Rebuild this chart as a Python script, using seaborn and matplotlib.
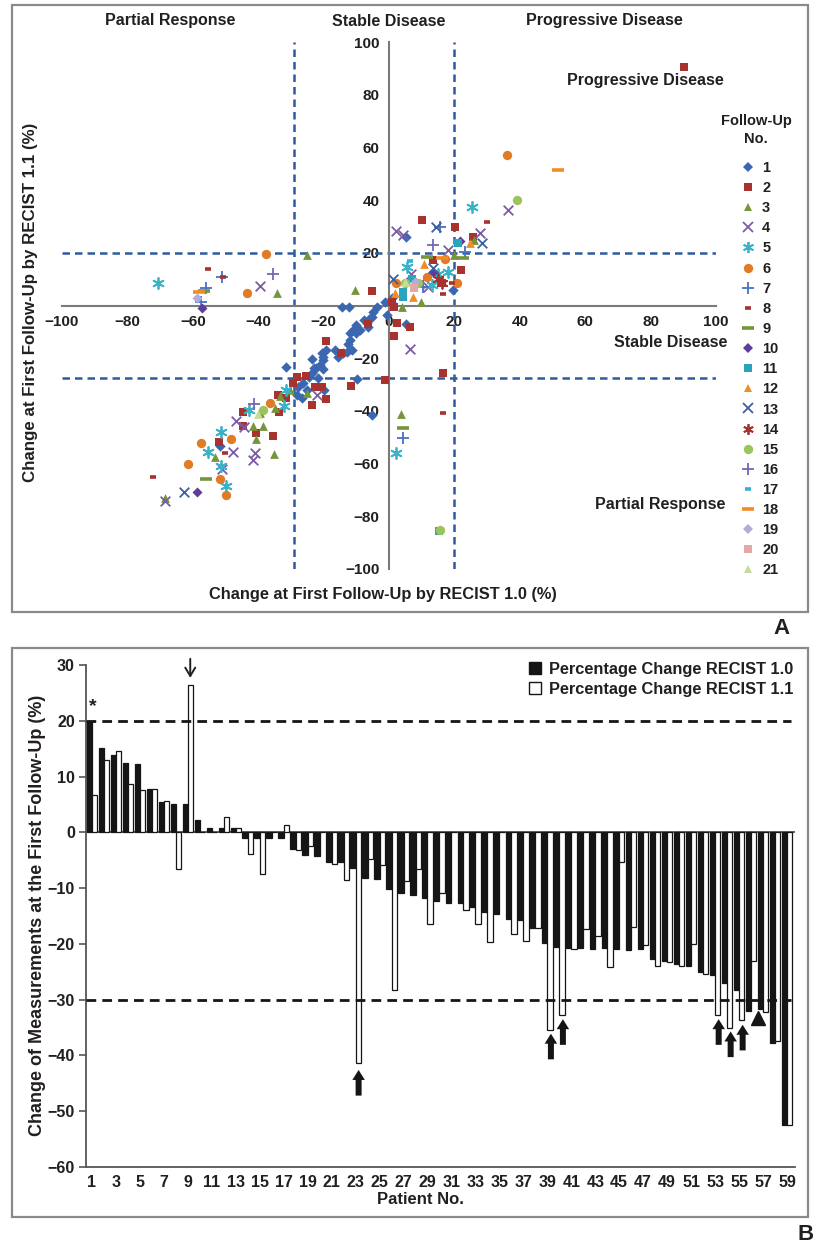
import numpy as np
import pandas as pd
import matplotlib
matplotlib.use("Agg")
import matplotlib.pyplot as plt
from matplotlib.lines import Line2D
from matplotlib.patches import Patch, Rectangle
import seaborn as sns

# ---------------- data: panel A (scatter, one list pair per follow-up no.) ----------------
fu_x = {
    1: [-3.8, -1.2, -0.7, -4.8, -6.0, -6.8, -7.6, -8.9, -10.1, -11.1, -11.9, -11.9, -12.4, -11.4, -12.7,
        -14.2, -15.5, -16.5, -19.3, -20.3, -20.6, -20.3, -21.1, -20.1, -22.9, -23.6, -22.3, -23.6, -24.4,
        -26.2, -27.7, -26.7, -25.2, -28.2, -31.5, -9.7, -14.5, -12.1, -21.6, -6.3, -5.3, -10.1, -19.9,
        -51.7, 5.2, 19.7, 5.2, -5.2, 0.5, 1.0],
    2: [90.2, 10.0, 20.3, 25.6, 21.9, 13.4, 16.1, 1.5, 0.8, 2.4, 1.6, 6.4, 16.4, -5.1, -19.3, -14.8, -6.4,
        -25.4, -28.2, -29.3, -22.6, -20.6, -19.3, -23.6, -11.6, -1.2, -33.5, -34.0, -31.5, -44.7, -44.5,
        -40.7, -35.4, -51.9],
    3: [-25.2, -34.3, -10.4, 3.9, 9.7, 26.0, 20.0, 3.7, -30.3, -33.3, -34.9, -39.4, -41.7, -38.4, -40.7,
        -35.1, -53.2, -68.5, -25.2],
    4: [36.5, 2.1, 4.4, 27.8, 18.1, 6.8, 9.5, 12.0, 6.4, -39.3, -46.8, -44.3, -41.0, -41.5, -47.6, -51.2,
        -68.5, -21.9],
    5: [25.3, 5.4, 13.3, 15.1, 18.1, -70.5, -31.4, -32.1, -42.7, -51.5, -55.3, -51.5, -49.7, 2.0],
    6: [36.0, 2.1, 11.5, 17.1, 20.9, -37.7, -43.5, -36.4, -48.4, -57.5, -61.4, -51.7, -49.7],
    7: [-51.2, -56.0, -57.5, 15.6, 23.2, 10.5, 4.3],
    8: [-55.5, -50.7, 30.1, 19.2, 16.4, -50.2, -72.1, 16.4],
    9: [-56.6, 22.7, 11.5, 4.3, -56.0],
    10: [-57.3, 21.7, 13.6, -58.6],
    11: [21.0, 4.4, 4.4, 7.0, 15.2],
    12: [24.8, 1.8, 7.2, 10.7],
    13: [14.4, 28.3, 13.6, -62.7, 1.1],
    14: [16.1, 15.0],
    15: [39.1, 4.9, 8.9, -38.6, 15.6],
    16: [-35.4, 13.4, -41.3],
    17: [6.5],
    18: [51.7, 16.1, -58.0],
    19: [-58.8, 8.0],
    20: [7.5],
    21: [5.0, -40.0],
}
fu_y = {
    1: [-0.5, 1.2, -3.6, -2.4, -5.2, -6.8, -5.5, -9.3, -10.6, -9.3, -10.6, -13.1, -14.6, -16.9, -17.5,
        -18.1, -19.4, -16.9, -16.9, -19.4, -18.1, -20.7, -22.6, -24.2, -23.8, -20.4, -23.8, -25.7, -27.0,
        -29.5, -30.8, -35.2, -32.1, -34.0, -23.5, -28.0, -0.5, -0.5, -27.6, -8.0, -4.2, -7.4, -32.1,
        -53.2, 25.9, 5.9, -7.0, -41.6, 1.5, 3.0],
    2: [90.5, 32.4, 29.9, 25.9, 13.5, 17.3, 8.6, -0.4, 1.4, -6.5, -11.6, -8.0, -25.5, 5.4, -13.4, -18.1,
        -7.1, -26.8, -27.0, -29.5, -30.8, -30.8, -35.4, -37.8, -30.5, -28.3, -40.3, -34.0, -35.2, -40.3,
        -45.6, -48.3, -49.4, -51.7],
    3: [19.2, 4.9, 5.9, -0.4, 1.4, 24.9, 19.0, -41.2, -32.0, -34.3, -38.8, -40.9, -45.7, -45.7, -50.8,
        -56.5, -57.4, -73.2, -33.1],
    4: [36.2, 28.3, 26.8, 27.6, 21.1, 12.0, 8.4, 7.1, -16.6, 7.5, -43.8, -46.0, -56.1, -58.6, -55.7,
        -61.9, -74.1, -34.0],
    5: [37.5, 14.7, 7.8, 12.0, 12.6, 8.7, -32.0, -38.0, -39.7, -47.9, -55.5, -60.9, -68.5, -56.0],
    6: [57.0, 8.7, 10.9, 17.5, 8.4, 19.5, 4.9, -37.1, -50.7, -52.3, -60.3, -65.7, -71.8],
    7: [10.7, 6.8, 1.2, 29.7, 20.4, 7.1, -50.3],
    8: [13.7, 10.7, 31.8, 8.4, -40.7, -56.1, -65.0, 4.4],
    9: [5.5, 18.1, 18.5, -46.6, -65.7],
    10: [-0.8, 24.6, 12.8, -70.8],
    11: [23.6, 5.2, 3.3, 10.0, -85.5],
    12: [23.6, 4.9, 3.3, 15.6],
    13: [29.7, 23.6, 14.1, -70.8, 9.9],
    14: [8.4, 10.0],
    15: [40.0, 8.4, 8.4, -39.7, -85.2],
    16: [11.8, 23.0, -37.5],
    17: [17.0],
    18: [51.4, 18.1, 5.0],
    19: [3.0, 9.0],
    20: [6.5],
    21: [9.0, -41.0],
}
fu_labels = [str(i) for i in range(1, 22)]
x_ticks_a = [-100, -80, -60, -40, -20, 0, 20, 40, 60, 80, 100]
y_ticks_a = [-100, -80, -60, -40, -20, 20, 40, 60, 80, 100]

# ---------------- data: panel B (bars) ----------------
patients = [str(i) for i in range(1, 60)]
recist10 = [20, 15.1, 13.8, 12.4, 12.3, 7.8, 5.5, 5.1, 5.1, 2.3, 0.8, 0.8, 0.8, -1.0, -1.0, -1.0, -1.0,
            -2.9, -4.0, -4.3, -5.4, -5.4, -6.4, -8.1, -8.3, -10.2, -10.9, -11.25, -11.7, -12.3, -12.6,
            -12.7, -13.3, -14.3, -14.6, -15.5, -15.8, -17.2, -19.8, -20.5, -20.8, -20.75, -20.9, -20.8,
            -20.9, -21.1, -21.0, -22.7, -23.0, -23.6, -24.0, -25.1, -25.5, -27.1, -28.3, -32.0, -31.6,
            -37.7, -52.4]
recist11 = [6.7, 13.0, 14.5, 8.6, 7.5, 7.8, 5.7, -6.5, 26.4, 0, 0, 2.8, 0.8, -3.9, -7.4, 0, 1.4, -3.2,
            -2.4, 0, -5.7, -8.5, -41.3, -4.8, -5.8, -28.2, -8.8, -6.5, -16.5, -10.8, 0, -14.0, -16.5,
            -19.6, 0, -18.2, -19.4, -17.2, -35.4, -32.8, -20.9, -17.4, -18.5, -24.2, -5.3, -17.0, -20.2,
            -24.0, -23.3, -23.9, -20.1, -25.4, -32.8, -35.1, -33.7, -23.0, -32.3, -37.4, -52.5]
method_labels = ["Percentage Change RECIST 1.0", "Percentage Change RECIST 1.1"]
y_ticks_b = [-60, -50, -40, -30, -20, -10, 0, 10, 20, 30]

# ---------------- styling ----------------
sns.set_theme(style="white")
plt.rcParams["font.family"] = ["Liberation Sans", "DejaVu Sans"]
plt.rcParams["font.weight"] = "bold"
plt.rcParams["axes.unicode_minus"] = True

W, H = 817, 1246
fig = plt.figure(figsize=(W / 100, H / 100), dpi=100)
TXT = "#231f20"
GRAY = "#7a7a7a"
BLUE_DASH = "#2f5b9f"

styles = {
    1: dict(marker="D", color="#3a67b0", s=28),
    2: dict(marker="s", color="#a8322d", s=32),
    3: dict(marker="^", color="#74953a", s=40),
    4: dict(marker="x", color="#7b5ba6", s=48),
    5: dict(marker=(6, 2, 0), color="#3ab3c6", s=64),
    6: dict(marker="o", color="#e07b28", s=45),
    7: dict(marker="+", color="#4472c4", s=64),
    8: dict(marker="_", color="#a8322d", s=22),
    9: dict(marker="_", color="#74953a", s=64),
    10: dict(marker="D", color="#5e3c99", s=26),
    11: dict(marker="s", color="#2aa3bd", s=32),
    12: dict(marker="^", color="#f28c28", s=40),
    13: dict(marker="x", color="#3d5fa0", s=48),
    14: dict(marker=(6, 2, 0), color="#a8322d", s=58),
    15: dict(marker="o", color="#9bc45a", s=45),
    16: dict(marker="+", color="#7468b4", s=64),
    17: dict(marker="_", color="#33b0d8", s=22),
    18: dict(marker="_", color="#f28c28", s=64),
    19: dict(marker="D", color="#b3abd8", s=26),
    20: dict(marker="s", color="#e3a8a8", s=32),
    21: dict(marker="^", color="#c6db9a", s=40),
}
line_markers = {"x", "+", "_"}

def is_line(m):
    return (m in line_markers) or isinstance(m, tuple)

# ---------------- panel A ----------------
ax1 = fig.add_axes([62 / W, 1 - 569 / H, 654 / W, 527 / H])
ax1.set_xlim(-100, 100)
ax1.set_ylim(-100, 100)
for v in (20, -27.5):
    ax1.axhline(v, color=BLUE_DASH, lw=1.8, ls=(0, (3, 2)), zorder=1)
for v in (-29, 20):
    ax1.axvline(v, color=BLUE_DASH, lw=1.8, ls=(0, (3, 2)), zorder=1)

for k in range(1, 22):
    st = styles[k]
    kw = dict(x=fu_x[k], y=fu_y[k], marker=st["marker"], color=st["color"], s=st["s"], ax=ax1,
              legend=False, zorder=3)
    if is_line(st["marker"]):
        kw["linewidth"] = 2.6 if st["marker"] == "_" else 1.3
    else:
        kw["linewidth"] = 0
    sns.scatterplot(**kw)

for side in ("top", "right"):
    ax1.spines[side].set_visible(False)
ax1.spines["left"].set_position(("data", 0))
ax1.spines["bottom"].set_position(("data", 0))
for side in ("left", "bottom"):
    ax1.spines[side].set_color(GRAY)
    ax1.spines[side].set_linewidth(1.5)
    ax1.spines[side].set_zorder(2)
ax1.set_xticks(x_ticks_a)
ax1.set_yticks(y_ticks_a)
ax1.set_xticklabels([f"{t:d}".replace("-", "\u2212") for t in x_ticks_a])
ax1.set_yticklabels([f"{t:d}".replace("-", "\u2212") for t in y_ticks_a])
ax1.tick_params(axis="both", direction="out", length=4, width=1.2, color=GRAY, labelsize=11,
                labelcolor=TXT, pad=3)
for lab in ax1.get_xticklabels() + ax1.get_yticklabels():
    lab.set_fontweight("bold")
ax1.set_xlabel("")
ax1.set_ylabel("")
ax1.patch.set_alpha(0)

# header & region texts
fig.text(170 / W, 1 - 21 / H, "Partial Response", ha="center", va="center", fontsize=11.5,
         fontweight="bold", color=TXT)
fig.text(389 / W, 1 - 21 / H, "Stable Disease", ha="center", va="center", fontsize=11.5,
         fontweight="bold", color=TXT)
fig.text(604 / W, 1 - 21 / H, "Progressive Disease", ha="center", va="center", fontsize=11.5,
         fontweight="bold", color=TXT)
ax1.text(78.5, 85.5, "Progressive Disease", ha="center", va="center", fontsize=11.5,
         fontweight="bold", color=TXT)
ax1.text(86, -14.2, "Stable Disease", ha="center", va="center", fontsize=11.5,
         fontweight="bold", color=TXT)
ax1.text(83, -75.7, "Partial Response", ha="center", va="center", fontsize=11.5,
         fontweight="bold", color=TXT)
fig.text(383 / W, 1 - 594 / H, "Change at First Follow-Up by RECIST 1.0 (%)", ha="center",
         va="center", fontsize=11.8, fontweight="bold", color=TXT)
fig.text(31 / W, 1 - 302 / H, "Change at First Follow-Up by RECIST 1.1 (%)", ha="center",
         va="center", rotation=90, fontsize=12.2, fontweight="bold", color=TXT)

handles = []
for k in range(1, 22):
    st = styles[k]
    ms = np.sqrt(st["s"])
    if is_line(st["marker"]):
        h = Line2D([], [], linestyle="none", marker=st["marker"], color=st["color"], markersize=ms,
                   markeredgewidth=2.6 if st["marker"] == "_" else 1.3)
    else:
        h = Line2D([], [], linestyle="none", marker=st["marker"], color=st["color"], markersize=ms,
                   markeredgewidth=0)
    handles.append(h)
fig.text(756 / W, 1 - 130 / H, "Follow-Up\nNo.", ha="center", va="center", fontsize=10.5,
         fontweight="bold", color=TXT, linespacing=1.35, multialignment="center")
leg = ax1.legend(handles, fu_labels, loc="upper left",
                 bbox_to_anchor=(741 / W, 1 - 161 / H), bbox_transform=fig.transFigure,
                 frameon=False, prop={"weight": "bold", "size": 10.5}, handlelength=0.9,
                 handletextpad=0.55, labelspacing=0.42, borderpad=0, borderaxespad=0)
for t in leg.get_texts():
    t.set_color(TXT)

# ---------------- panel B ----------------
ax2 = fig.add_axes([86 / W, 1 - 1167 / H, 709 / W, 502 / H])
df = pd.DataFrame({
    "patient": patients * 2,
    "value": recist10 + recist11,
    "method": [method_labels[0]] * len(patients) + [method_labels[1]] * len(patients),
})
sns.barplot(data=df, x="patient", y="value", hue="method", order=patients, hue_order=method_labels,
            palette=["#151515", "white"], edgecolor="#151515", linewidth=0.9, width=0.88,
            dodge=True, ax=ax2, legend=False, errorbar=None, zorder=3)
ax2.set_xlim(-0.5, 58.67)
ax2.set_ylim(-60, 30)
ax2.axhline(0, color="#555555", lw=1.3, zorder=2)
for v in (20, -30):
    ax2.axhline(v, color="#151515", lw=2.0, ls=(0, (3.5, 2.2)), xmax=0.995, zorder=4)
for side in ("top", "right"):
    ax2.spines[side].set_visible(False)
for side in ("left", "bottom"):
    ax2.spines[side].set_color("#555555")
    ax2.spines[side].set_linewidth(1.3)
ax2.set_yticks(y_ticks_b)
ax2.set_yticklabels([f"{t:d}".replace("-", "\u2212") for t in y_ticks_b])
ax2.set_xticks(range(0, 59, 2))
ax2.set_xticklabels(patients[::2])
ax2.tick_params(axis="y", direction="out", length=5, width=1.2, color="#555555", labelsize=11.5,
                labelcolor=TXT, pad=3, left=True)
ax2.tick_params(axis="x", length=0, labelsize=11.5, labelcolor=TXT, pad=6)
for lab in ax2.get_xticklabels() + ax2.get_yticklabels():
    lab.set_fontweight("bold")
ax2.set_xlabel("")
ax2.set_ylabel("")
ax2.patch.set_alpha(0)

fig.text(420 / W, 1 - 1200 / H, "Patient No.", ha="center", va="center", fontsize=12,
         fontweight="bold", color=TXT)
fig.text(38 / W, 1 - 915 / H, "Change of Measurements at the First Follow-Up (%)", ha="center",
         va="center", rotation=90, fontsize=13, fontweight="bold", color=TXT)

leg2 = ax2.legend(handles=[Patch(facecolor="#151515", edgecolor="#151515", label=method_labels[0]),
                           Patch(facecolor="white", edgecolor="#151515", label=method_labels[1])],
                  loc="upper left", bbox_to_anchor=(529 / W, 1 - 662 / H),
                  bbox_transform=fig.transFigure, frameon=False,
                  prop={"weight": "bold", "size": 11.8}, handlelength=0.75, handleheight=0.75,
                  handletextpad=0.5, labelspacing=0.3, borderpad=0, borderaxespad=0)
for t in leg2.get_texts():
    t.set_color(TXT)

# annotations
ax2.text(0.05, 21.0, "*", ha="center", va="bottom", fontsize=14, fontweight="bold", color=TXT)
ax2.annotate("", xy=(8.2, 27.2), xytext=(8.2, 31.6), annotation_clip=False,
             arrowprops=dict(arrowstyle="->,head_length=0.5,head_width=0.3", lw=1.4, color=TXT))
up_arrows = [(22.25, -42.6), (38.3, -36.1), (39.3, -33.5), (52.3, -33.5), (53.3, -35.7), (54.3, -34.5)]
for ax_x, tip in up_arrows:
    ax2.annotate("", xy=(ax_x, tip), xytext=(ax_x, tip - 4.6),
                 arrowprops=dict(arrowstyle="simple,head_length=0.6,head_width=0.75,tail_width=0.36",
                                 color="#151515", lw=0, mutation_scale=12, shrinkA=0, shrinkB=0))
ax2.plot([55.55], [-33.3], marker="^", markersize=9.5, color="#151515", linestyle="none")

# panel frames & letters
fig.add_artist(Rectangle((12 / W, 1 - 612 / H), 796 / W, 607 / H, transform=fig.transFigure,
                         fill=False, edgecolor="#8a8a8a", lw=1.6))
fig.add_artist(Rectangle((12 / W, 1 - 1217 / H), 796 / W, 569 / H, transform=fig.transFigure,
                         fill=False, edgecolor="#8a8a8a", lw=1.6))
fig.text(781 / W, 1 - 628 / H, "A", ha="center", va="center", fontsize=16, fontweight="bold",
         color=TXT)
fig.text(806 / W, 1 - 1234 / H, "B", ha="center", va="center", fontsize=16, fontweight="bold",
         color=TXT)

fig.savefig("out.png", dpi=100)
